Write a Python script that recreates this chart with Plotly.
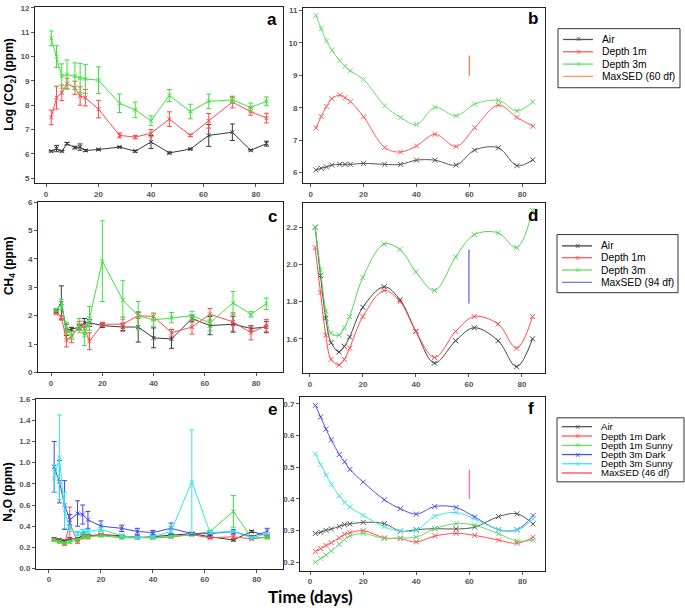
import plotly.graph_objects as go

W, H = 685, 611

days = [2, 4, 6, 8, 11, 13, 15, 20, 28, 34, 40, 47, 55, 62, 71, 78, 84]

# panel a - log CO2, means with error bars
co2_air = [6.11, 6.22, 6.11, 6.42, 6.26, 6.28, 6.14, 6.18, 6.28, 6.11, 6.49, 6.04, 6.20, 6.76, 6.89, 6.15, 6.42]
co2_air_err = [0.03, 0.13, 0.03, 0.05, 0.05, 0.13, 0.04, 0.03, 0.03, 0.04, 0.27, 0.04, 0.03, 0.45, 0.34, 0.03, 0.10]
co2_1m = [7.50, 8.31, 8.51, 8.89, 8.72, 8.38, 8.31, 7.84, 6.76, 6.69, 6.85, 7.43, 6.76, 7.36, 8.13, 7.74, 7.47]
co2_1m_err = [0.30, 0.47, 0.32, 0.22, 0.27, 0.38, 0.34, 0.36, 0.10, 0.07, 0.15, 0.30, 0.05, 0.30, 0.24, 0.15, 0.20]
co2_3m = [10.75, 10.00, 9.20, 9.26, 9.19, 9.12, 9.08, 9.03, 8.08, 7.81, 7.36, 8.40, 7.74, 8.16, 8.22, 7.91, 8.16]
co2_3m_err = [0.30, 0.45, 0.50, 0.60, 0.55, 0.60, 0.60, 0.55, 0.38, 0.32, 0.20, 0.25, 0.30, 0.30, 0.10, 0.18, 0.18]

# panel b - smoothed CO2
co2s_air = [6.08, 6.13, 6.17, 6.23, 6.25, 6.25, 6.25, 6.28, 6.25, 6.25, 6.38, 6.38, 6.23, 6.69, 6.76, 6.21, 6.39]
co2s_1m = [7.37, 7.73, 8.04, 8.28, 8.39, 8.31, 8.19, 7.72, 6.77, 6.63, 6.82, 7.18, 6.80, 7.38, 8.08, 7.70, 7.43]
co2s_3m = [10.85, 10.44, 10.06, 9.78, 9.45, 9.28, 9.14, 8.87, 8.06, 7.70, 7.48, 8.01, 7.75, 8.11, 8.22, 7.90, 8.18]
co2_sed_x = [60, 60]
co2_sed_y = [8.99, 9.61]

# panel c - CH4 means with error bars
ch4_air = [2.15, 2.45, 1.50, 1.52, 1.60, 1.75, 1.75, 1.65, 1.60, 1.60, 1.22, 1.18, 1.90, 1.65, 1.70, 1.55, 1.60]
ch4_air_err = [0.05, 0.60, 0.20, 0.07, 0.10, 0.15, 0.12, 0.07, 0.12, 0.53, 0.35, 0.33, 0.12, 0.32, 0.28, 0.10, 0.20]
ch4_1m = [2.10, 1.95, 1.15, 1.25, 1.65, 1.55, 1.10, 1.70, 1.70, 2.00, 1.97, 1.40, 1.60, 2.05, 1.78, 1.40, 1.65]
ch4_1m_err = [0.05, 0.05, 0.25, 0.20, 0.15, 0.15, 0.30, 0.07, 0.25, 0.10, 0.12, 0.12, 0.25, 0.20, 0.32, 0.25, 0.22]
ch4_3m = [2.21, 2.40, 1.55, 1.30, 1.65, 1.30, 1.90, 3.92, 2.55, 2.00, 1.85, 1.93, 2.00, 1.75, 2.45, 2.05, 2.42]
ch4_3m_err = [0.05, 0.18, 0.22, 0.15, 0.25, 0.35, 0.42, 1.42, 0.68, 0.50, 0.22, 0.18, 0.15, 0.28, 0.40, 0.10, 0.20]

# panel d - smoothed CH4
ch4s_air = [2.20, 1.94, 1.71, 1.58, 1.53, 1.56, 1.61, 1.77, 1.88, 1.81, 1.64, 1.47, 1.59, 1.66, 1.59, 1.45, 1.60]
ch4s_1m = [2.09, 1.85, 1.62, 1.49, 1.46, 1.49, 1.55, 1.72, 1.86, 1.80, 1.64, 1.50, 1.64, 1.72, 1.68, 1.55, 1.72]
ch4s_3m = [2.20, 1.97, 1.75, 1.63, 1.62, 1.66, 1.72, 1.93, 2.11, 2.08, 1.96, 1.86, 2.04, 2.16, 2.17, 2.09, 2.29]
ch4_sed_x = [60, 60]
ch4_sed_y = [1.79, 2.08]

# panel e - N2O means with error bars
n2o_air = [0.28, 0.27, 0.26, 0.28, 0.28, 0.32, 0.31, 0.32, 0.31, 0.29, 0.30, 0.31, 0.33, 0.30, 0.27, 0.35, 0.31]
n2o_air_err = [0.01, 0.01, 0.01, 0.01, 0.01, 0.02, 0.01, 0.01, 0.01, 0.01, 0.01, 0.01, 0.01, 0.01, 0.01, 0.01, 0.01]
n2o_1md = [0.27, 0.26, 0.23, 0.43, 0.25, 0.30, 0.30, 0.32, 0.30, 0.30, 0.29, 0.30, 0.32, 0.29, 0.30, 0.28, 0.30]
n2o_1md_err = [0.01, 0.01, 0.01, 0.15, 0.01, 0.02, 0.02, 0.01, 0.01, 0.01, 0.01, 0.01, 0.01, 0.01, 0.02, 0.01, 0.01]
n2o_1ms = [0.27, 0.25, 0.24, 0.25, 0.27, 0.30, 0.30, 0.31, 0.29, 0.29, 0.29, 0.30, 0.32, 0.35, 0.54, 0.29, 0.29]
n2o_1ms_err = [0.01, 0.01, 0.01, 0.01, 0.01, 0.01, 0.01, 0.01, 0.01, 0.01, 0.01, 0.01, 0.01, 0.01, 0.15, 0.01, 0.01]
n2o_3md = [0.96, 0.82, 0.60, 0.46, 0.52, 0.51, 0.46, 0.40, 0.38, 0.35, 0.34, 0.38, 0.33, 0.33, 0.35, 0.30, 0.35]
n2o_3md_err = [0.24, 0.20, 0.23, 0.05, 0.12, 0.09, 0.08, 0.05, 0.03, 0.03, 0.02, 0.05, 0.01, 0.01, 0.02, 0.01, 0.03]
n2o_3ms = [0.85, 1.05, 0.55, 0.38, 0.33, 0.35, 0.35, 0.37, 0.31, 0.29, 0.30, 0.35, 0.82, 0.34, 0.35, 0.29, 0.33]
n2o_3ms_err = [0.13, 0.40, 0.17, 0.03, 0.02, 0.02, 0.02, 0.02, 0.01, 0.01, 0.01, 0.05, 0.49, 0.01, 0.01, 0.01, 0.01]

# panel f - smoothed N2O
n2os_air = [0.291, 0.295, 0.301, 0.305, 0.313, 0.319, 0.321, 0.326, 0.322, 0.298, 0.303, 0.306, 0.305, 0.311, 0.344, 0.353, 0.321]
n2os_1md = [0.234, 0.243, 0.253, 0.262, 0.277, 0.288, 0.293, 0.300, 0.277, 0.275, 0.264, 0.283, 0.291, 0.285, 0.270, 0.260, 0.279]
n2os_1ms = [0.200, 0.212, 0.223, 0.236, 0.257, 0.272, 0.283, 0.291, 0.275, 0.277, 0.279, 0.306, 0.322, 0.317, 0.290, 0.267, 0.270]
n2os_3md = [0.695, 0.658, 0.620, 0.586, 0.540, 0.517, 0.493, 0.453, 0.397, 0.369, 0.352, 0.376, 0.373, 0.343, 0.303, 0.303, 0.347]
n2os_3ms = [0.542, 0.508, 0.476, 0.446, 0.410, 0.389, 0.374, 0.348, 0.312, 0.298, 0.301, 0.345, 0.357, 0.337, 0.303, 0.301, 0.337]
n2o_sed_x = [60, 60]
n2o_sed_y = [0.40, 0.492]

BLACK = '#3a3a3a'
RED = '#ff4a4a'
GREEN = '#3fe03f'
BLUE = '#4646e6'
CYAN = '#30e6e6'

fig = go.Figure()


def px_x(p):
    return p / W


def px_y(p):
    return 1 - p / H


def add_err(i, y, err, color):
    fig.add_trace(go.Scatter(
        x=days, y=y, mode='lines+markers', xaxis='x%d' % i, yaxis='y%d' % i,
        line=dict(color=color, width=1),
        marker=dict(symbol='x-thin', size=4, line=dict(color=color, width=1)),
        error_y=dict(type='data', array=err, color=color, thickness=1, width=2.5),
        showlegend=False))


def add_smooth(i, y, color):
    fig.add_trace(go.Scatter(
        x=days, y=y, mode='lines+markers', xaxis='x%d' % i, yaxis='y%d' % i,
        line=dict(color=color, width=1, shape='spline', smoothing=1.0),
        marker=dict(symbol='x-thin', size=5, line=dict(color=color, width=1)),
        showlegend=False))


def add_sed(i, xs, ys, color):
    fig.add_trace(go.Scatter(
        x=xs, y=ys, mode='lines', xaxis='x%d' % i, yaxis='y%d' % i,
        line=dict(color=color, width=1.5), showlegend=False))


# a
add_err(1, co2_air, co2_air_err, BLACK)
add_err(1, co2_1m, co2_1m_err, RED)
add_err(1, co2_3m, co2_3m_err, GREEN)
# b
add_smooth(2, co2s_air, '#555555')
add_smooth(2, co2s_1m, '#ff5a5a')
add_smooth(2, co2s_3m, '#66dd66')
add_sed(2, co2_sed_x, co2_sed_y, '#e09060')
# c
add_err(3, ch4_air, ch4_air_err, BLACK)
add_err(3, ch4_1m, ch4_1m_err, RED)
add_err(3, ch4_3m, ch4_3m_err, GREEN)
# d
add_smooth(4, ch4s_air, '#444444')
add_smooth(4, ch4s_1m, '#ff4a4a')
add_smooth(4, ch4s_3m, '#55d655')
add_sed(4, ch4_sed_x, ch4_sed_y, '#7b7bf0')
# e
add_err(5, n2o_air, n2o_air_err, BLACK)
add_err(5, n2o_1md, n2o_1md_err, RED)
add_err(5, n2o_1ms, n2o_1ms_err, GREEN)
add_err(5, n2o_3md, n2o_3md_err, BLUE)
add_err(5, n2o_3ms, n2o_3ms_err, CYAN)
# f
add_smooth(6, n2os_air, '#555555')
add_smooth(6, n2os_1md, '#ff5050')
add_smooth(6, n2os_1ms, '#66d666')
add_smooth(6, n2os_3md, '#5050e6')
add_smooth(6, n2os_3ms, '#40e6e6')
add_sed(6, n2o_sed_x, n2o_sed_y, '#f27ac0')

# panel frames in pixels: (left, right, top, bottom), x range, y range
panels = {
    1: ((35, 283, 3, 182), [-4.2, 90.3], [4.79, 12.04], dict(dtick=1)),
    2: ((303, 545, 4, 182), [-2.9, 88.6], [5.665, 11.08], dict(dtick=1)),
    3: ((38, 283, 201, 374), [-5.1, 90.5], [0, 6], dict(dtick=1)),
    4: ((303, 545, 202, 375), [-2.6, 88.7], [1.414, 2.33], dict(tickvals=[1.6, 1.8, 2.0, 2.2], tickformat='.1f')),
    5: ((36, 283, 401, 573), [-5.0, 90.1], [0, 1.6], dict(dtick=0.2, tickformat='.1f')),
    6: ((300, 545, 399, 575), [-3.8, 88.5], [0.174, 0.721], dict(dtick=0.1, tickformat='.1f')),
}

tickfont = dict(family='Liberation Sans', size=8, color='#555555', weight='bold')
for i, ((l, r, t, b), xr, yr, yextra) in panels.items():
    common = dict(showline=True, linecolor='#222222', linewidth=1, mirror=True,
                  ticks='outside', ticklen=3, tickwidth=1, tickcolor='#555555',
                  tickfont=tickfont, showgrid=False, zeroline=False)
    fig.layout['xaxis%d' % i] = dict(domain=[px_x(l), px_x(r)], range=xr, anchor='y%d' % i,
                                     tickvals=[0, 20, 40, 60, 80], **common)
    fig.layout['yaxis%d' % i] = dict(domain=[px_y(b), px_y(t)], range=yr, anchor='x%d' % i,
                                     **yextra, **common)

annotations = []


def label(text, x, y, size, **kw):
    font = dict(family=kw.pop('family', 'Liberation Sans'), size=size,
                color=kw.pop('color', 'black'), weight=kw.pop('weight', 'normal'))
    annotations.append(dict(text=text, x=px_x(x), y=px_y(y), xref='paper', yref='paper',
                            xanchor=kw.pop('xanchor', 'center'), yanchor='middle',
                            showarrow=False, font=font, **kw))


# panel letters
for txt, x, y in [('a', 272, 16), ('b', 533, 15), ('c', 272, 216),
                  ('d', 533, 215), ('e', 272, 412), ('f', 531, 411)]:
    label(txt, x, y, 17, weight='bold')

# y axis titles
for txt, x, y in [('Log (CO<sub>2</sub>) (ppm)', 10, 82), ('CH<sub>4</sub> (ppm)', 10, 266),
                  ('N<sub>2</sub>O (ppm)', 9, 496)]:
    label(txt, x, y, 12, weight='bold', textangle=-90)

label('Time (days)', 310, 601, 17, family='Lato', weight='bold')

shapes = []


def legend_box(box, rows, size):
    l, r, t, b = box
    shapes.append(dict(type='rect', xref='paper', yref='paper', x0=px_x(l), x1=px_x(r),
                       y0=px_y(b), y1=px_y(t), line=dict(color='#333333', width=1),
                       fillcolor='white'))
    for text, color, ypos, mark in rows:
        shapes.append(dict(type='line', xref='paper', yref='paper', x0=px_x(l + 5), x1=px_x(l + 35),
                           y0=px_y(ypos), y1=px_y(ypos), line=dict(color=color, width=1.3)))
        if mark:
            label('×', l + 20, ypos, 9, color=color)
        label(text, l + 43, ypos, size, xanchor='left', borderpad=0)


legend_box((558, 680, 25, 85), [
    ('Air', '#555555', 36, True), ('Depth 1m', '#ff5a5a', 48.5, True),
    ('Depth 3m', '#66dd66', 61, True), ('MaxSED (60 df)', '#ff9a55', 73.5, False)], 10.3)
legend_box((557, 678, 234, 293), [
    ('Air', '#444444', 245.5, True), ('Depth 1m', '#ff5a5a', 257.5, True),
    ('Depth 3m', '#66dd66', 270, True), ('MaxSED (94 df)', '#7b7bf0', 282.5, False)], 10.3)
legend_box((557, 684, 420, 485), [
    ('Air', '#555555', 429, True), ('Depth 1m Dark', '#ff5a5a', 438.5, True),
    ('Depth 1m Sunny', '#66dd66', 448, True), ('Depth 3m Dark', '#5050e6', 457.3, True),
    ('Depth 3m Sunny', '#40e6e6', 466.6, True), ('MaxSED (46 df)', '#ff4060', 476, False)], 9.6)

fig.update_layout(width=W, height=H, margin=dict(l=0, r=0, t=0, b=0),
                  paper_bgcolor='white', plot_bgcolor='white',
                  annotations=annotations, shapes=shapes, showlegend=False)

# the page body has a default 8px margin; drop it so the figure fills the window
fig.write_html("out.html", config={'displayModeBar': False},
               post_script="document.body.style.margin='0px';")
